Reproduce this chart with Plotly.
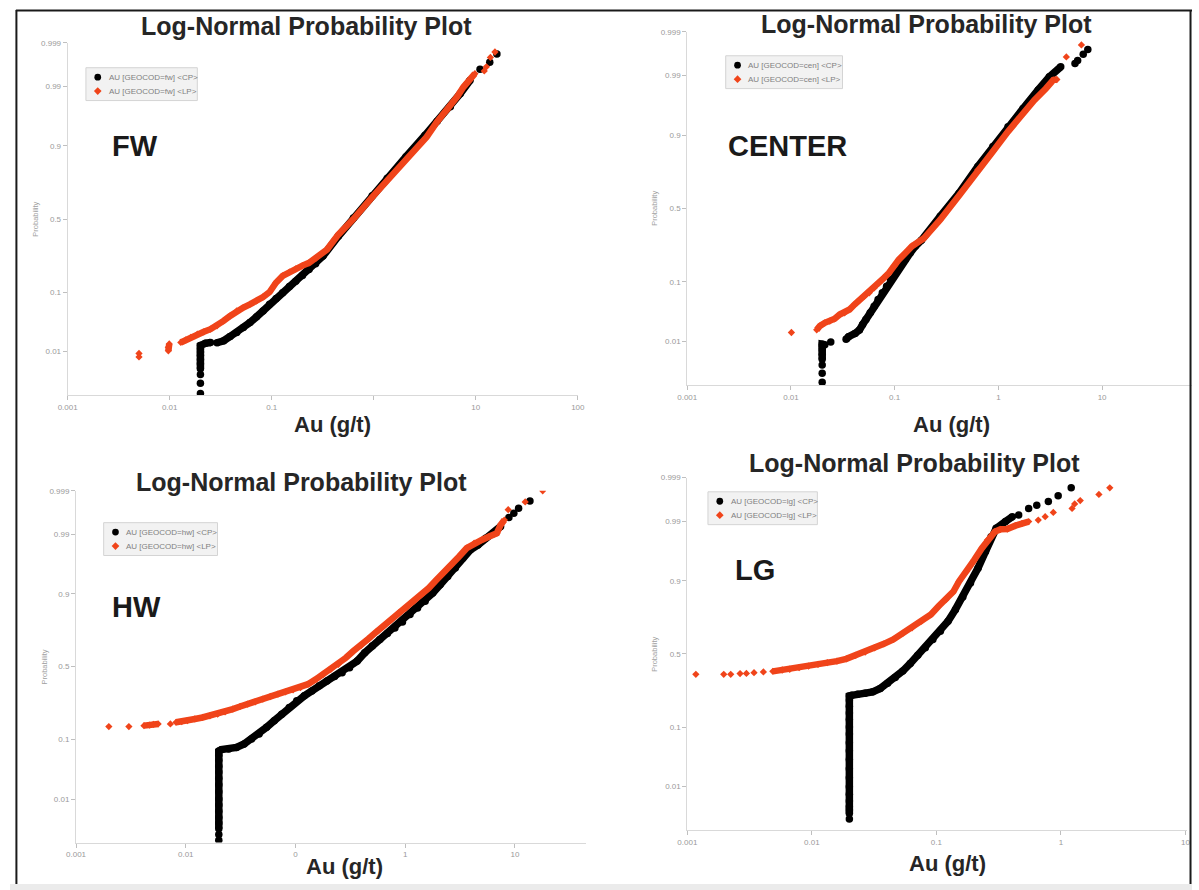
import plotly.graph_objects as go
from statistics import NormalDist

W, H = 1199, 890
_nd = NormalDist()


def probit(ps):
    return [_nd.inv_cdf(p) for p in ps]


# ---------------------------------------------------------------- data
# Cumulative probability plots, Au (g/t) vs cumulative probability.
# *_runs: index ranges (start, stop) of densely packed samples.

# FW
fw_cp_x = [0.02, 0.02, 0.02, 0.02, 0.02, 0.02, 0.02, 0.02, 0.02, 0.02,
           0.0224, 0.0251, 0.0291, 0.0338, 0.0391, 0.0454, 0.0527, 0.0611,
           0.0709, 0.0822, 0.0953, 0.1105, 0.128, 0.149, 0.172, 0.200, 0.232,
           0.269, 0.318, 0.449, 0.631, 0.966, 1.355, 2.07, 3.18, 4.18, 5.63,
           7.03, 8.79, 11.0, 13.7, 16.1]
fw_cp_p = [0.0011, 0.0020, 0.0032, 0.0043, 0.0056, 0.0069, 0.0084, 0.0098,
           0.0114, 0.0133, 0.0146, 0.0152, 0.0150, 0.0164, 0.0197, 0.0233,
           0.0286, 0.0348, 0.0431, 0.0536, 0.0673, 0.0814, 0.0983, 0.118,
           0.138, 0.161, 0.188, 0.216, 0.258, 0.381, 0.507, 0.658, 0.763,
           0.863, 0.929, 0.957, 0.9754, 0.986, 0.9925, 0.9957, 0.9970, 0.9981]
fw_cp_runs = [(3, 12), (12, 39)]

fw_lp_x = [0.005, 0.005, 0.0097, 0.0097, 0.0099, 0.01285, 0.0144, 0.0161,
           0.0187, 0.0216, 0.0251, 0.0291, 0.0337, 0.0391, 0.0454, 0.0527,
           0.0611, 0.0709, 0.0822, 0.0953, 0.110, 0.128, 0.149, 0.172, 0.200,
           0.232, 0.270, 0.348, 0.449, 0.631, 0.98, 1.40, 2.15, 3.30, 4.18,
           5.23, 6.53, 7.57, 9.80, 12.1, 12.7, 13.9, 15.4]
fw_lp_p = [0.0078, 0.0092, 0.0104, 0.0122, 0.0142, 0.0152, 0.0171, 0.0189,
           0.0217, 0.0240, 0.0267, 0.0305, 0.0370, 0.0447, 0.0536, 0.0602,
           0.0673, 0.0754, 0.0858, 0.1004, 0.132, 0.159, 0.176, 0.191, 0.207,
           0.221, 0.245, 0.296, 0.392, 0.500, 0.655, 0.760, 0.860, 0.925,
           0.956, 0.9718, 0.9838, 0.9897, 0.9946, 0.9953, 0.9962, 0.9977,
           0.9983]
fw_lp_runs = [(2, 5), (5, 39)]

# CENTER
cen_cp_x = [0.02, 0.02, 0.02, 0.02, 0.02, 0.02, 0.02, 0.02, 0.0212, 0.0242,
            0.0340, 0.0359, 0.0415, 0.0457, 0.0491, 0.0528, 0.0581, 0.0634,
            0.0692, 0.0760, 0.0836, 0.0912, 0.1017, 0.1135, 0.1267, 0.141,
            0.158, 0.181, 0.275, 0.418, 0.634, 0.885, 1.238, 1.73, 2.42, 3.10,
            3.99, 5.48, 5.81, 6.58, 7.28]
cen_cp_p = [0.0012, 0.0020, 0.0031, 0.0042, 0.0054, 0.0067, 0.0078, 0.0088,
            0.0086, 0.0098, 0.0111, 0.0125, 0.0145, 0.0168, 0.0213, 0.0262,
            0.0342, 0.0440, 0.0560, 0.0702, 0.0874, 0.107, 0.130, 0.157,
            0.186, 0.219, 0.255, 0.290, 0.446, 0.606, 0.769, 0.861, 0.924,
            0.960, 0.981, 0.9894, 0.9934, 0.9944, 0.9952, 0.9965, 0.9973]
cen_cp_runs = [(3, 9), (10, 37)]

cen_lp_x = [0.0101, 0.0177, 0.0190, 0.0212, 0.0237, 0.0264, 0.0295, 0.0329,
            0.0367, 0.0410, 0.0457, 0.0510, 0.0569, 0.0634, 0.0707, 0.0789,
            0.0880, 0.0982, 0.1096, 0.127, 0.1466, 0.190, 0.275, 0.418, 0.634,
            0.885, 1.238, 1.73, 2.22, 2.86, 3.38, 3.66, 4.52, 6.32]
cen_lp_p = [0.0151, 0.0170, 0.0200, 0.0229, 0.0245, 0.0270, 0.0320, 0.0342,
            0.0388, 0.0467, 0.0547, 0.0628, 0.0702, 0.0827, 0.0968, 0.1128,
            0.130, 0.157, 0.186, 0.219, 0.255, 0.300, 0.423, 0.590, 0.751,
            0.841, 0.911, 0.952, 0.971, 0.982, 0.9877, 0.9880, 0.9960, 0.9979]
cen_lp_runs = [(1, 32)]

# HW
hw_cp_x = [0.02] * 16 + [
    0.0211, 0.0247, 0.0290, 0.0340, 0.0398, 0.0466, 0.0545, 0.0640, 0.0749,
    0.0877, 0.1027, 0.1204, 0.141, 0.165, 0.1935, 0.227, 0.266, 0.311, 0.365,
    0.428, 0.501, 0.587, 0.688, 0.805, 0.944, 1.106, 1.296, 1.52, 1.78, 2.08,
    2.44, 2.86, 3.35, 3.93, 4.60, 5.40, 6.32, 7.40, 8.81, 9.77, 10.8, 13.7]
hw_cp_p = [0.00115, 0.0016, 0.0022, 0.0030, 0.0040, 0.0055, 0.0075, 0.0100,
           0.0140, 0.0190, 0.0250, 0.0320, 0.0400, 0.0500, 0.0600, 0.0690,
           0.0724, 0.0740, 0.0780, 0.0870, 0.102, 0.118, 0.143, 0.171, 0.202,
           0.237, 0.274, 0.304, 0.335, 0.368, 0.401, 0.431, 0.458, 0.493,
           0.539, 0.597, 0.641, 0.684, 0.720, 0.752, 0.784, 0.820, 0.849,
           0.875, 0.902, 0.925, 0.9436, 0.9584, 0.9717, 0.980, 0.9838, 0.988,
           0.9902, 0.9931, 0.9956, 0.9965, 0.9973, 0.9982]
hw_cp_runs = [(2, 54)]

hw_lp_x = [0.00199, 0.00303, 0.00416, 0.00469, 0.00507, 0.0056, 0.00724,
           0.00815, 0.00918, 0.01035, 0.0121, 0.0142, 0.0166, 0.0195, 0.0228,
           0.0268, 0.0313, 0.0367, 0.0430, 0.0504, 0.0590, 0.0692, 0.0810,
           0.0950, 0.111, 0.130, 0.153, 0.179, 0.210, 0.246, 0.288, 0.337,
           0.395, 0.463, 0.542, 0.635, 0.744, 0.872, 1.02, 1.20, 1.40, 1.64,
           1.93, 2.26, 2.64, 3.10, 3.63, 4.25, 4.98, 5.83, 6.84, 7.40, 8.01,
           8.68, 12.4, 17.9]
hw_lp_p = [0.146, 0.146, 0.150, 0.152, 0.155, 0.157, 0.157, 0.164, 0.167,
           0.171, 0.179, 0.186, 0.194, 0.202, 0.214, 0.228, 0.242, 0.255,
           0.268, 0.284, 0.300, 0.314, 0.329, 0.342, 0.357, 0.379, 0.412,
           0.447, 0.481, 0.516, 0.562, 0.608, 0.645, 0.688, 0.728, 0.762,
           0.796, 0.828, 0.849, 0.875, 0.897, 0.9165, 0.9367, 0.951, 0.9633,
           0.9736, 0.9813, 0.985, 0.987, 0.9889, 0.9905, 0.9936, 0.9950,
           0.9971, 0.9981, 0.9990]
hw_lp_runs = [(2, 6), (7, 53)]

# LG
lg_cp_x = [0.02] * 19 + [
    0.0209, 0.0233, 0.0268, 0.0308, 0.0354, 0.0406, 0.0467, 0.0537, 0.0617,
    0.0709, 0.0815, 0.0937, 0.1077, 0.124, 0.142, 0.163, 0.188, 0.216, 0.248,
    0.275, 0.302, 0.359, 0.407, 0.458, 0.551, 0.640, 0.793, 0.951, 1.21]
lg_cp_p = [0.0019, 0.0026, 0.0031, 0.0037, 0.0050, 0.0070, 0.0100, 0.0150,
           0.0220, 0.0320, 0.0450, 0.0600, 0.0800, 0.1000, 0.1250, 0.1500,
           0.1800, 0.2100, 0.2310, 0.234, 0.240, 0.245, 0.253, 0.272, 0.303,
           0.339, 0.382, 0.434, 0.490, 0.543, 0.600, 0.655, 0.717, 0.781,
           0.841, 0.893, 0.9336, 0.9636, 0.980, 0.9861, 0.9898, 0.9919,
           0.9925, 0.9946, 0.9954, 0.9962, 0.9972, 0.9982]
lg_cp_runs = [(1, 42)]

lg_lp_x = [0.00117, 0.00196, 0.00223, 0.00265, 0.00298, 0.00343, 0.00408,
           0.00486, 0.00578, 0.00664, 0.0079, 0.0094, 0.0112, 0.0133, 0.0159,
           0.0189, 0.0225, 0.0268, 0.0319, 0.0379, 0.0451, 0.0537, 0.0638,
           0.0760, 0.0904, 0.104, 0.1195, 0.137, 0.152, 0.175, 0.201, 0.232,
           0.257, 0.295, 0.328, 0.371, 0.431, 0.488, 0.551, 0.658, 0.748,
           0.869, 1.23, 1.29, 1.43, 2.02, 2.47]
lg_lp_p = [0.360, 0.360, 0.360, 0.365, 0.366, 0.371, 0.376, 0.380, 0.389,
           0.394, 0.405, 0.416, 0.427, 0.439, 0.450, 0.466, 0.490, 0.513,
           0.543, 0.570, 0.600, 0.640, 0.676, 0.717, 0.755, 0.798, 0.829,
           0.863, 0.898, 0.926, 0.950, 0.968, 0.977, 0.9839, 0.9855, 0.9857,
           0.9877, 0.9889, 0.9898, 0.9905, 0.9919, 0.9934, 0.9946, 0.9957,
           0.9964, 0.9974, 0.9982]
lg_lp_runs = [(7, 39)]

prob_ticks = [0.01, 0.1, 0.5, 0.9, 0.99, 0.999]
prob_labels = ["0.01", "0.1", "0.5", "0.9", "0.99", "0.999"]
au_ticks = [0.001, 0.01, 0.1, 1, 10, 100]
fw_au_labels = ["0.001", "0.01", "0.1", "", "10", "100"]
cen_au_labels = ["0.001", "0.01", "0.1", "1", "10", "100"]
hw_au_labels = ["0.001", "0.01", "0", "1", "10", "100"]
lg_au_labels = ["0.001", "0.01", "0.1", "1", "10", "100"]

# ---------------------------------------------------------------- layout
FONT = "Liberation Sans, Arial, sans-serif"
BLACK = "#000000"
RED = "#f0441a"
TXT = "#262626"


def px_x(v):
    return v / W


def px_y(v):
    return 1 - v / H


# pixel geometry of each panel: x axis starts at 0.001 (x0) with a decade
# length dec; the x axis line spans xdom, the y axis spans 0.999..0.001.
panels = [
    dict(code="fw", label="FW",
         cp=(fw_cp_x, fw_cp_p, fw_cp_runs), lp=(fw_lp_x, fw_lp_p, fw_lp_runs),
         ticklabels=fw_au_labels, x0=58.5, dec=103.5,
         xdom=(58.5, 576), ydom=(39, 393),
         title=(301, 22), lab=(127, 143), xt=(327, 422), yt=(25, 216),
         leg=(77, 64, 113)),
    dict(code="cen", label="CENTER",
         cp=(cen_cp_x, cen_cp_p, cen_cp_runs), lp=(cen_lp_x, cen_lp_p, cen_lp_runs),
         ticklabels=cen_au_labels, x0=687, dec=105.2,
         xdom=(687, 1199), ydom=(28, 383),
         title=(930, 20), lab=(789, 143), xt=(955, 422), yt=(653, 205),
         leg=(726, 52, 118.5)),
    dict(code="hw", label="HW",
         cp=(hw_cp_x, hw_cp_p, hw_cp_runs), lp=(hw_lp_x, hw_lp_p, hw_lp_runs),
         ticklabels=hw_au_labels, x0=67, dec=111.3,
         xdom=(67, 584.4), ydom=(489, 842.3),
         title=(296, 480), lab=(128.5, 606), xt=(339, 866), yt=(34, 666),
         leg=(95, 521, 115.5)),
    dict(code="lg", label="LG",
         cp=(lg_cp_x, lg_cp_p, lg_cp_runs), lp=(lg_lp_x, lg_lp_p, lg_lp_runs),
         ticklabels=lg_au_labels, x0=687.1, dec=126.3,
         xdom=(687.1, 1194), ydom=(475.7, 830),
         title=(918, 461), lab=(756, 569), xt=(951, 863), yt=(653, 653),
         leg=(708, 490, 111)),
]


def runs_xy(xs, ps, runs):
    ox, oy = [], []
    zs = probit(ps)
    for a, b in runs:
        ox += xs[a:b] + [None]
        oy += zs[a:b] + [None]
    return ox, oy


fig = go.Figure()
layout = dict(width=W, height=H, margin=dict(l=0, r=0, t=0, b=0),
              paper_bgcolor="white", plot_bgcolor="white", showlegend=False,
              font=dict(family=FONT), annotations=[], shapes=[])
ann = layout["annotations"]
shp = layout["shapes"]

zlo, zhi = _nd.inv_cdf(0.001), _nd.inv_cdf(0.999)
STYLE = {"cp": (BLACK, "circle", 7.5, 7.5), "lp": (RED, "diamond", 5.6, 6.5)}

for i, pn in enumerate(panels, start=1):
    xa = "x" if i == 1 else f"x{i}"
    ya = "y" if i == 1 else f"y{i}"
    for kind in ("cp", "lp"):
        color, symbol, size, lw = STYLE[kind]
        xs, ps, runs = pn[kind]
        lx, ly = runs_xy(xs, ps, runs)
        fig.add_trace(go.Scatter(x=lx, y=ly, xaxis=xa, yaxis=ya, mode="lines",
                                 line=dict(color=color, width=lw),
                                 hoverinfo="skip", connectgaps=False))
        fig.add_trace(go.Scatter(
            x=xs, y=probit(ps), xaxis=xa, yaxis=ya, mode="markers",
            marker=dict(color=color, symbol=symbol, size=size, line=dict(width=0)),
            name=f"AU [GEOCOD={pn['code']}] &lt;{kind.upper()}&gt;"))

    d0, d1 = pn["xdom"][0], min(pn["xdom"][1], W)
    xr = [-3 + (d0 - pn["x0"]) / pn["dec"], -3 + (d1 - pn["x0"]) / pn["dec"]]
    xkey = "xaxis" if i == 1 else f"xaxis{i}"
    ykey = "yaxis" if i == 1 else f"yaxis{i}"
    layout[xkey] = dict(
        type="log", range=xr, anchor=ya,
        domain=[px_x(d0), px_x(d1)],
        showgrid=False, zeroline=False, showline=True, linecolor="#d9d9d9",
        linewidth=1, ticks="outside", ticklen=4, tickcolor="#bfbfbf",
        tickvals=au_ticks, ticktext=pn["ticklabels"],
        tickfont=dict(size=8, color="#9a9a9a", family=FONT))
    layout[ykey] = dict(
        range=[zlo, zhi], anchor=xa,
        domain=[px_y(pn["ydom"][1]), px_y(pn["ydom"][0])],
        showgrid=False, zeroline=False, showline=True, linecolor="#d9d9d9",
        linewidth=1, ticks="outside", ticklen=4, tickcolor="#bfbfbf",
        tickvals=probit(prob_ticks), ticktext=prob_labels,
        tickfont=dict(size=8, color="#9a9a9a", family=FONT))

    # legend box (Excel style)
    L, T, LW = pn["leg"]
    shp.append(dict(type="rect", xref="paper", yref="paper",
                    x0=px_x(L), x1=px_x(L + LW), y0=px_y(T + 33), y1=px_y(T),
                    fillcolor="#f2f2f2", line=dict(color="#d4d4d4", width=1)))
    for k, kind in enumerate(("cp", "lp")):
        cx, cy = L + 12, T + 9.5 + 14 * k
        if kind == "cp":
            shp.append(dict(type="circle", xref="paper", yref="paper",
                            x0=px_x(cx - 3.4), x1=px_x(cx + 3.4),
                            y0=px_y(cy + 3.4), y1=px_y(cy - 3.4),
                            fillcolor=BLACK, line=dict(width=0)))
        else:
            d = 3.9
            path = (f"M {px_x(cx)},{px_y(cy - d)} L {px_x(cx + d)},{px_y(cy)} "
                    f"L {px_x(cx)},{px_y(cy + d)} L {px_x(cx - d)},{px_y(cy)} Z")
            shp.append(dict(type="path", xref="paper", yref="paper", path=path,
                            fillcolor=RED, line=dict(width=0)))
        ann.append(dict(text=f"AU [GEOCOD={pn['code']}] &lt;{kind.upper()}&gt;",
                        x=px_x(L + 21), y=px_y(cy), xref="paper", yref="paper",
                        showarrow=False, xanchor="left", yanchor="middle",
                        font=dict(size=8, color="#808080", family=FONT)))

    ann.append(dict(text="Log-Normal Probability Plot", x=px_x(pn["title"][0]),
                    y=px_y(pn["title"][1]), xref="paper", yref="paper",
                    showarrow=False, xanchor="center", yanchor="middle",
                    font=dict(size=25, color=TXT, family=FONT, weight="bold")))
    ann.append(dict(text=pn["label"], x=px_x(pn["lab"][0]), y=px_y(pn["lab"][1]),
                    xref="paper", yref="paper", showarrow=False,
                    xanchor="center", yanchor="middle",
                    font=dict(size=29, color="#1a1a1a", family=FONT, weight="bold")))
    ann.append(dict(text="Au (g/t)", x=px_x(pn["xt"][0]), y=px_y(pn["xt"][1]),
                    xref="paper", yref="paper", showarrow=False,
                    xanchor="center", yanchor="middle",
                    font=dict(size=22, color=TXT, family=FONT, weight="bold")))
    ann.append(dict(text="Probability", x=px_x(pn["yt"][0]), y=px_y(pn["yt"][1]),
                    xref="paper", yref="paper", showarrow=False, textangle=-90,
                    xanchor="center", yanchor="middle",
                    font=dict(size=7.5, color="#a0a0a0", family=FONT)))

# frame of the screenshot
shp.append(dict(type="rect", xref="paper", yref="paper", x0=0, x1=1,
                y0=0, y1=px_y(884), fillcolor="#ebebeb", line=dict(width=0),
                layer="below"))
for x0, y0, x1, y1 in ((6.5, 6, 6.5, 884), (6, 6.5, 1199, 6.5),
                       (1197.5, 6, 1197.5, 884)):
    shp.append(dict(type="line", xref="paper", yref="paper",
                    x0=px_x(x0), y0=px_y(y0), x1=px_x(x1), y1=px_y(y1),
                    line=dict(color="#1a1a1a", width=2)))

fig.update_layout(**layout)
fig.write_html(
    "out.html",
    config={"displayModeBar": False},
    post_script="document.body.style.margin='0';"
                "document.documentElement.style.overflow='hidden';"
                "document.body.style.overflow='hidden';")
